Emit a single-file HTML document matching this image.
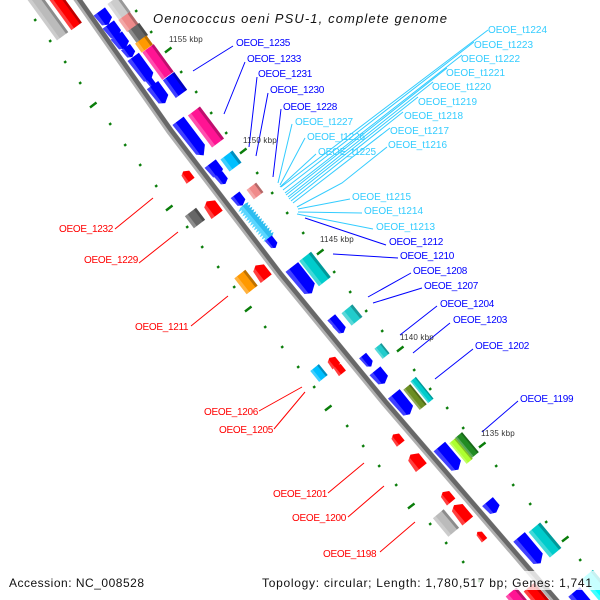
<!DOCTYPE html>
<html><head><meta charset="utf-8"><style>
html,body{margin:0;padding:0;background:#fff}
svg{display:block}
text{font-family:"Liberation Sans",sans-serif;font-size:10px}
.b{fill:#00f;letter-spacing:-.3px}.r{fill:#f00;letter-spacing:-.3px}.c{fill:#33ccff}
.k{font-size:8px;fill:#333;letter-spacing:.2px}
.f{font-size:12px;fill:#111}
</style></head><body>
<svg xmlns="http://www.w3.org/2000/svg" width="600" height="600" viewBox="0 0 600 600">
<defs>
<g id="q"><rect x="-.5" y="-.5" width="1" height="1"/><rect x="-.5" y="-.5" width="1" height=".2" fill="#000" opacity=".25"/><rect x="-.5" y=".25" width="1" height=".25" fill="#fff" opacity=".25"/></g>
<g id="a1"><polygon points="-.5,-.5 .25,-.5 .5,.02 .3,.42 -.5,.5"/><polygon fill="#fff" opacity=".25" points="-.5,.2 .41,.2 .3,.42 -.5,.5"/></g>
<g id="a2"><polygon points="-.5,-.5 .28,-.5 .5,.02 .34,.42 -.5,.5"/><polygon fill="#fff" opacity=".25" points="-.5,.2 .42,.2 .34,.42 -.5,.5"/></g>
<g id="a3"><polygon points="-.5,-.5 .32,-.5 .5,.02 .38,.42 -.5,.5"/><polygon fill="#fff" opacity=".25" points="-.5,.2 .44,.2 .38,.42 -.5,.5"/></g>
</defs>

<!-- backbone -->
<polyline points="70.9,-10 78,0 170,131 280,275 385,403 527,568 560,606" fill="none" stroke="#b0b0b0" stroke-width="7.5"/>
<polyline points="70.9,-10 78,0 170,131 280,275 385,403 527,568 560,606" fill="none" stroke="#686868" stroke-width="4.5" transform="translate(1 -.8)"/>

<!-- tick marks -->
<path fill="none" stroke="#0a7d0a" stroke-width="2.4" d="M135.2 11.8l2-1.6M150.2 32.8l2-1.6M180.2 72.8l2-1.6M195.2 92.8l2-1.6M210.2 113.8l2-1.6M225.2 133.8l2-1.6M256.2 173.8l2-1.6M271.2 193.8l2-1.6M286.2 213.8l2-1.6M302.2 233.8l2-1.6M333.2 272.8l2-1.6M349.2 292.8l2-1.6M365.2 311.8l2-1.6M381.2 331.8l2-1.6M413.2 370.8l2-1.6M429.2 389.8l2-1.6M446.2 408.8l2-1.6M462.2 428.8l2-1.6M495.2 466.8l2-1.6M512.2 485.8l2-1.6M529.2 504.8l2-1.6M545.2 522.8l2-1.6M579.2 560.8l2-1.6M596.2 578.8l2-1.6M34.2 20.8l2-1.6M49.2 41.8l2-1.6M64.2 62.8l2-1.6M79.2 83.8l2-1.6M109.2 124.8l2-1.6M124.2 145.8l2-1.6M139.2 165.8l2-1.6M155.2 186.8l2-1.6M186.2 227.8l2-1.6M201.2 247.8l2-1.6M217.2 267.8l2-1.6M233.2 287.8l2-1.6M264.2 327.8l2-1.6M281.2 347.8l2-1.6M297.2 367.8l2-1.6M313.2 387.8l2-1.6M346.2 426.8l2-1.6M362.2 446.8l2-1.6M378.2 466.8l2-1.6M395.2 485.8l2-1.6M429.2 524.8l2-1.6M445.2 543.8l2-1.6M462.2 562.8l2-1.6M478.2 581.8l2-1.6"/>
<path fill="none" stroke="#0a7d0a" stroke-width="2.4" d="M165 52.5l6.5-5M240 153.5l6.5-5M317 254.5l6.5-5M397 351.5l6.5-5M479 447.5l6.5-5M562 541.5l6.5-5M90 107.5l6.5-5M166 210.5l6.5-5M245 311.5l6.5-5M325 410.5l6.5-5M408 508.5l6.5-5"/>

<!-- left of backbone, top -->
<use href="#q" fill="#bbb" transform="translate(45 12) rotate(54) scale(60 14)"/>
<use href="#q" fill="#f00" transform="translate(59 2) rotate(54) scale(60 13)"/>

<!-- first strand genes -->
<use href="#a1" fill="#00f" transform="translate(104 18) rotate(54) scale(16 14)"/>
<use href="#a1" fill="#00f" transform="translate(113 31) rotate(54) scale(16 14)"/>
<use href="#a1" fill="#00f" transform="translate(121 42) rotate(54) scale(16 14)"/>
<use href="#a1" fill="#00f" transform="translate(129 52) rotate(54) scale(12 11)"/>
<use href="#a3" fill="#00f" transform="translate(142 69) rotate(54) scale(30 14)"/>
<use href="#a1" fill="#00f" transform="translate(152 84) rotate(54) scale(11 7)"/>
<use href="#a2" fill="#00f" transform="translate(159 94) rotate(54) scale(22 14)"/>
<use href="#q" fill="#ccc" transform="translate(119 8) rotate(54) scale(20 14)"/>
<use href="#q" fill="#ee8a8a" transform="translate(128.5 22) rotate(54) scale(15 14)"/>
<use href="#q" fill="#666" transform="translate(138 33) rotate(54) scale(15 14)"/>
<use href="#q" fill="#ff9900" transform="translate(144 44) rotate(54) scale(11 14)"/>
<use href="#q" fill="#ff1493" transform="translate(158 62) rotate(54) scale(34 14)"/>
<use href="#q" fill="#00f" transform="translate(175 85) rotate(54) scale(22 14)"/>

<use href="#a3" fill="#00f" transform="translate(191 138) rotate(53) scale(43 14)"/>
<use href="#q" fill="#ff1493" transform="translate(206 127) rotate(53) scale(40 15)"/>
<use href="#q" fill="#00bfff" transform="translate(231 161) rotate(53) scale(15 15)"/>
<use href="#a1" fill="#00f" transform="translate(215 170) rotate(53) scale(16 14)"/>
<use href="#a1" fill="#00f" transform="translate(222 179) rotate(53) scale(12 10)"/>
<use href="#q" fill="#f08a8a" transform="translate(255 191) rotate(53) scale(12 12)"/>
<use href="#a1" fill="#00f" transform="translate(239 200) rotate(53) scale(13 11)"/>

<!-- tRNA cluster -->
<g transform="translate(256 222) rotate(50)">
<polygon fill="#2fbdf0" points="-21,-4 -20,-7 -18,-4 -17,-7 -15,-4 -14,-7 -12,-4 -11,-7 -9,-4 -8,-7 -6,-4 -5,-7 -3,-4 -2,-7 0,-4 1,-7 3,-4 4,-7 6,-4 7,-7 9,-4 10,-7 12,-4 13,-7 15,-4 16,-7 18,-4 19,-7 21,-4 21,1 -21,1"/>
<polygon fill="#5ad6ff" points="-21,0 21,0 21,3 20,7 18,3 17,7 15,3 14,7 12,3 11,7 9,3 8,7 6,3 5,7 3,3 2,7 0,3 -1,7 -3,3 -4,7 -6,3 -7,7 -9,3 -10,7 -12,3 -13,7 -15,3 -16,7 -18,3 -19,7 -21,3"/>
</g>
<use href="#a1" fill="#00f" transform="translate(272 243) rotate(52) scale(12 9)"/>

<use href="#q" fill="#00cccc" transform="translate(315 269) rotate(52) scale(32 15)"/>
<use href="#a3" fill="#00f" transform="translate(302 280) rotate(52) scale(33 16)"/>
<use href="#q" fill="#22cccc" transform="translate(352 315) rotate(51) scale(16 14)"/>
<use href="#a1" fill="#00f" transform="translate(335 322) rotate(51) scale(12 10)"/>
<use href="#a1" fill="#00f" transform="translate(340 328) rotate(51) scale(12 10)"/>
<use href="#q" fill="#22cccc" transform="translate(382 351) rotate(51) scale(13 9)"/>
<use href="#a1" fill="#00f" transform="translate(367 361) rotate(51) scale(14 9)"/>
<use href="#a1" fill="#00f" transform="translate(380 377) rotate(51) scale(16 14)"/>
<use href="#q" fill="#00cccc" transform="translate(422 390) rotate(51) scale(28 7)"/>
<use href="#q" fill="#6b8e23" transform="translate(415 397) rotate(51) scale(26 9)"/>
<use href="#a3" fill="#00f" transform="translate(402 404) rotate(51) scale(26 15)"/>
<use href="#q" fill="#228b22" transform="translate(467 445) rotate(50) scale(26 9)"/>
<use href="#q" fill="#adff2f" transform="translate(461 451) rotate(50) scale(27 8)"/>
<use href="#a3" fill="#00f" transform="translate(449 458) rotate(50) scale(30 15)"/>
<use href="#a1" fill="#00f" transform="translate(492 507) rotate(50) scale(14 14)"/>
<use href="#q" fill="#00cccc" transform="translate(545 540) rotate(50) scale(33 15)"/>
<use href="#a3" fill="#00f" transform="translate(530 550) rotate(50) scale(34 15)"/>

<!-- left strand genes -->
<use href="#a1" fill="#f00" transform="translate(187 176) rotate(53) scale(-12 10)"/>
<use href="#a1" fill="#f00" transform="translate(212 208) rotate(53) scale(-17 14)"/>
<use href="#q" fill="#666" transform="translate(195 218) rotate(53) scale(15 14)"/>
<use href="#a1" fill="#f00" transform="translate(261 272) rotate(52) scale(-17 14)"/>
<use href="#q" fill="#ff9900" transform="translate(246 282) rotate(52) scale(20 14)"/>
<use href="#q" fill="#00bfff" transform="translate(319 373) rotate(51) scale(14 11)"/>
<use href="#a1" fill="#f00" transform="translate(333 362) rotate(51) scale(-11 10)"/>
<use href="#a1" fill="#f00" transform="translate(339 369) rotate(51) scale(-11 9)"/>
<use href="#a1" fill="#f00" transform="translate(397 439) rotate(51) scale(-12 10)"/>
<use href="#a1" fill="#f00" transform="translate(416 461) rotate(51) scale(-17 14)"/>
<use href="#a1" fill="#f00" transform="translate(447 497) rotate(50) scale(-13 11)"/>
<use href="#a2" fill="#f00" transform="translate(461 513) rotate(50) scale(-21 14)"/>
<use href="#q" fill="#bbb" transform="translate(446 523) rotate(50) scale(24 14)"/>
<use href="#a1" fill="#f00" transform="translate(481 536) rotate(50) scale(-11 7)"/>

<!-- bottom edge genes -->
<use href="#q" fill="#ff1493" transform="translate(522 605) rotate(50) scale(34 14)"/>
<use href="#q" fill="#f00" transform="translate(540 600) rotate(50) scale(34 14)"/>
<use href="#a3" fill="#00f" transform="translate(585 605) rotate(50) scale(34 15)"/>
<use href="#q" fill="#00ffff" transform="translate(600 590) rotate(50) scale(40 15)"/>

<!-- connectors -->
<g fill="none" stroke="#00f" stroke-width="1">
<path d="M233 46L193 71M245 62L224 114M257 77L249 147M268 93L256 156M281 109L273 177M386 245L305 218M398 258L333 254M411 273L368 297M422 288L373 303M437 306L400 335M450 323L413 353M473 349L435 379M518 401L482 432"/>
</g>
<g fill="none" stroke="#33ccff" stroke-width="1">
<path d="M292 124L278 183M305 138L280 185M316 154L280 187M488 30L281 187M474 42L283 190M462 55L285 193M447 68L286 195M433 82L288 197M418 97L289 199M403 112L291 201M390 128L293 203M387 147L342 183L297 207M350 199L298 209M362 213L298 212M373 229L297 214"/>
</g>
<g fill="none" stroke="#f00" stroke-width="1">
<path d="M115 229L153 198M139 263L178 232M191 326L228 296M259 411L302 387M274 429L305 392M328 493L364 463M348 517L384 486M380 552L415 522"/>
</g>

<!-- labels -->
<text class="b" x="236" y="46">OEOE_1235</text>
<text class="b" x="247" y="62">OEOE_1233</text>
<text class="b" x="258" y="77">OEOE_1231</text>
<text class="b" x="270" y="93">OEOE_1230</text>
<text class="b" x="283" y="110">OEOE_1228</text>
<text class="b" x="389" y="245">OEOE_1212</text>
<text class="b" x="400" y="259">OEOE_1210</text>
<text class="b" x="413" y="274">OEOE_1208</text>
<text class="b" x="424" y="289">OEOE_1207</text>
<text class="b" x="440" y="307">OEOE_1204</text>
<text class="b" x="453" y="323">OEOE_1203</text>
<text class="b" x="475" y="349">OEOE_1202</text>
<text class="b" x="520" y="402">OEOE_1199</text>

<text class="c" x="488" y="33" textLength="59">OEOE_t1224</text>
<text class="c" x="474" y="48" textLength="59">OEOE_t1223</text>
<text class="c" x="461" y="62" textLength="59">OEOE_t1222</text>
<text class="c" x="446" y="76" textLength="59">OEOE_t1221</text>
<text class="c" x="432" y="90" textLength="59">OEOE_t1220</text>
<text class="c" x="418" y="105" textLength="59">OEOE_t1219</text>
<text class="c" x="404" y="119" textLength="59">OEOE_t1218</text>
<text class="c" x="390" y="134" textLength="59">OEOE_t1217</text>
<text class="c" x="388" y="148" textLength="59">OEOE_t1216</text>
<text class="c" x="295" y="125" textLength="58">OEOE_t1227</text>
<text class="c" x="307" y="140" textLength="58">OEOE_t1226</text>
<text class="c" x="318" y="155" textLength="58">OEOE_t1225</text>
<text class="c" x="352" y="200" textLength="59">OEOE_t1215</text>
<text class="c" x="364" y="214" textLength="59">OEOE_t1214</text>
<text class="c" x="376" y="230" textLength="59">OEOE_t1213</text>

<text class="r" x="59" y="232">OEOE_1232</text>
<text class="r" x="84" y="263">OEOE_1229</text>
<text class="r" x="135" y="330">OEOE_1211</text>
<text class="r" x="204" y="415">OEOE_1206</text>
<text class="r" x="219" y="433">OEOE_1205</text>
<text class="r" x="273" y="497">OEOE_1201</text>
<text class="r" x="292" y="521">OEOE_1200</text>
<text class="r" x="323" y="557">OEOE_1198</text>

<text class="k" x="169" y="42">1155 kbp</text>
<text class="k" x="243" y="143">1150 kbp</text>
<text class="k" x="320" y="242">1145 kbp</text>
<text class="k" x="400" y="340">1140 kbp</text>
<text class="k" x="481" y="436">1135 kbp</text>

<text x="153" y="23" textLength="294" style="font-size:13px;font-style:italic;fill:#111">Oenococcus oeni PSU-1, complete genome</text>

<!-- footer -->
<rect x="255" y="571" width="345" height="19" fill="#fff" opacity=".78"/>
<rect x="4" y="573" width="145" height="17" fill="#fff" opacity=".78"/>
<text class="f" x="9" y="587" textLength="135">Accession: NC_008528</text>
<text class="f" x="262" y="587" textLength="330">Topology: circular; Length: 1,780,517 bp; Genes: 1,741</text>
</svg>
</body></html>
